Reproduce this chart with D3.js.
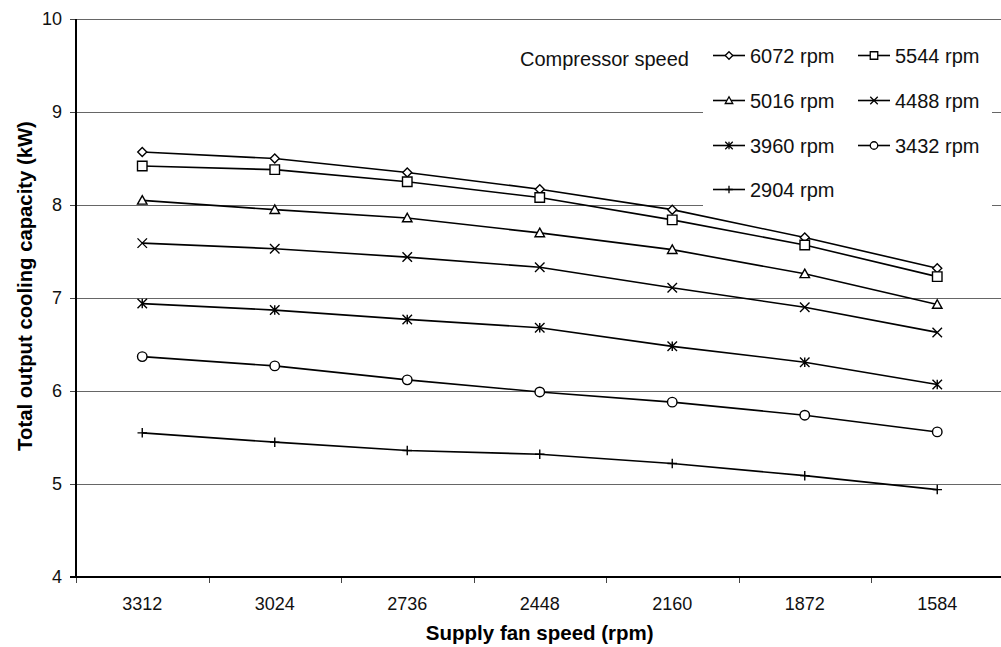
<!DOCTYPE html>
<html>
<head>
<meta charset="utf-8">
<script src="https://cdn.jsdelivr.net/npm/d3@7"></script>
<style>
  body { margin: 0; background: #fff; }
  svg { display: block; font-family: "Liberation Sans", Arial, sans-serif; }
</style>
</head>
<body>
<svg width="1001" height="647"></svg>
<script>
// categories on the x axis (supply fan speed, rpm)
const fanSpeeds = ["3312", "3024", "2736", "2448", "2160", "1872", "1584"];

// series names (compressor speed)
const seriesNames = ["6072 rpm", "5544 rpm", "5016 rpm", "4488 rpm", "3960 rpm", "3432 rpm", "2904 rpm"];
const markerTypes = ["diamond", "square", "triangle", "x", "asterisk", "circle", "plus"];

// total output cooling capacity (kW)
const cap6072 = [8.57, 8.50, 8.35, 8.17, 7.95, 7.65, 7.32];
const cap5544 = [8.42, 8.38, 8.25, 8.08, 7.84, 7.57, 7.23];
const cap5016 = [8.05, 7.95, 7.86, 7.70, 7.52, 7.26, 6.93];
const cap4488 = [7.59, 7.53, 7.44, 7.33, 7.11, 6.90, 6.63];
const cap3960 = [6.94, 6.87, 6.77, 6.68, 6.48, 6.31, 6.07];
const cap3432 = [6.37, 6.27, 6.12, 5.99, 5.88, 5.74, 5.56];
const cap2904 = [5.55, 5.45, 5.36, 5.32, 5.22, 5.09, 4.94];

const yTicks = [4, 5, 6, 7, 8, 9, 10];

const seriesValues = [cap6072, cap5544, cap5016, cap4488, cap3960, cap3432, cap2904];

const series = seriesNames.map((name, i) => ({
  name,
  marker: markerTypes[i],
  values: seriesValues[i].map((v, j) => ({ cat: fanSpeeds[j], v }))
}));

const svg = d3.select("svg");

const plotLeft = 76, plotRight = 1003.5, plotTop = 19, plotBottom = 577;

const x = d3.scaleBand().domain(fanSpeeds).range([plotLeft, plotRight]);
const y = d3.scaleLinear().domain([4, 10]).range([plotBottom, plotTop]);

// marker paths, centered at 0,0
function marker(type, s) {
  const h = s / 2;
  switch (type) {
    case "diamond": return `M0,${-h}L${h},0L0,${h}L${-h},0Z`;
    case "square": return `M${-h},${-h}H${h}V${h}H${-h}Z`;
    case "triangle": return `M0,${-h}L${h},${h * 0.8}L${-h},${h * 0.8}Z`;
    case "x": return `M${-h},${-h}L${h},${h}M${-h},${h}L${h},${-h}`;
    case "plus": return `M${-h},0H${h}M0,${-h}V${h}`;
    case "asterisk": return `M${-h},${-h}L${h},${h}M${-h},${h}L${h},${-h}M0,${-h}V${h}`;
    case "circle": return `M${h},0A${h},${h} 0 1,1 ${-h},0A${h},${h} 0 1,1 ${h},0Z`;
  }
}

// gridlines
svg.append("g")
  .selectAll("line")
  .data(yTicks.filter(d => d > 4))
  .join("line")
  .attr("x1", plotLeft).attr("x2", 1001)
  .attr("y1", d => Math.round(y(d)) + 0.5).attr("y2", d => Math.round(y(d)) + 0.5)
  .attr("stroke", "#666").attr("stroke-width", 1);

// legend background hides the gridlines behind it
svg.append("rect")
  .attr("x", 703).attr("y", 30).attr("width", 289).attr("height", 177)
  .attr("fill", "#fff");

// y axis
const yAxis = svg.append("g")
  .attr("transform", `translate(${plotLeft},0)`)
  .call(d3.axisLeft(y).tickValues(yTicks).tickSize(6).tickPadding(8).tickFormat(d3.format("d")));
yAxis.select(".domain").remove();
yAxis.selectAll(".tick line").attr("stroke", "#444");
yAxis.selectAll("text").attr("font-size", 18).attr("font-family", "Liberation Sans, Arial, sans-serif").attr("fill", "#111");
svg.append("line")
  .attr("x1", plotLeft).attr("x2", plotLeft).attr("y1", plotTop).attr("y2", plotBottom + 1)
  .attr("stroke", "#000").attr("stroke-width", 2);

// x axis
const xTickPos = fanSpeeds.map(d => x(d)).concat([plotRight]);
svg.append("g")
  .selectAll("line")
  .data(xTickPos)
  .join("line")
  .attr("x1", d => Math.round(d) + 0.5).attr("x2", d => Math.round(d) + 0.5)
  .attr("y1", plotBottom).attr("y2", plotBottom + 6)
  .attr("stroke", "#444");
svg.append("line")
  .attr("x1", plotLeft - 6).attr("x2", 1001).attr("y1", plotBottom).attr("y2", plotBottom)
  .attr("stroke", "#000").attr("stroke-width", 2.2);
svg.append("g")
  .selectAll("text")
  .data(fanSpeeds)
  .join("text")
  .attr("x", d => x(d) + x.bandwidth() / 2)
  .attr("y", 609.5)
  .attr("text-anchor", "middle")
  .attr("font-size", 18)
  .attr("fill", "#111")
  .text(d => d);

// axis titles
svg.append("text")
  .attr("x", (plotLeft + plotRight) / 2).attr("y", 640)
  .attr("text-anchor", "middle")
  .attr("font-size", 20.5).attr("font-weight", "bold")
  .text("Supply fan speed (rpm)");
svg.append("text")
  .attr("transform", "translate(32,286) rotate(-90)")
  .attr("text-anchor", "middle")
  .attr("font-size", 20.3).attr("font-weight", "bold")
  .text("Total output cooling capacity (kW)");

// series lines and markers
const cx = d => x(d.cat) + x.bandwidth() / 2;
const line = d3.line().x(cx).y(d => y(d.v));

const sg = svg.append("g")
  .selectAll("g")
  .data(series)
  .join("g");

sg.append("path")
  .attr("d", d => line(d.values))
  .attr("fill", "none").attr("stroke", "#000").attr("stroke-width", 1.6);

sg.each(function (s) {
  d3.select(this).selectAll("path.m")
    .data(s.values)
    .join("path")
    .attr("class", "m")
    .attr("transform", d => `translate(${cx(d)},${y(d.v)})`)
    .attr("d", marker(s.marker, s.marker === "diamond" ? 9 : 9.5))
    .attr("fill", "#fff").attr("stroke", "#000").attr("stroke-width", 1.4);
});

// legend
svg.append("text")
  .attr("x", 520).attr("y", 66)
  .attr("font-size", 20).attr("fill", "#111")
  .text("Compressor speed");

const colX = [713, 858];
const rowY = [55.5, 100.5, 145.5, 189.5];
const lg = svg.append("g")
  .selectAll("g")
  .data(series)
  .join("g")
  .attr("transform", (d, i) => `translate(${colX[i % 2]},${rowY[Math.floor(i / 2)]})`);
lg.append("line")
  .attr("x1", 0).attr("x2", 32).attr("y1", 0).attr("y2", 0)
  .attr("stroke", "#000").attr("stroke-width", 1.6);
lg.append("path")
  .attr("transform", "translate(16,0)")
  .attr("d", d => marker(d.marker, 7.5))
  .attr("fill", "#fff").attr("stroke", "#000").attr("stroke-width", 1.3);
lg.append("text")
  .attr("x", 37).attr("y", 7.5)
  .attr("font-size", 20).attr("fill", "#111")
  .text(d => d.name);
</script>
</body>
</html>
